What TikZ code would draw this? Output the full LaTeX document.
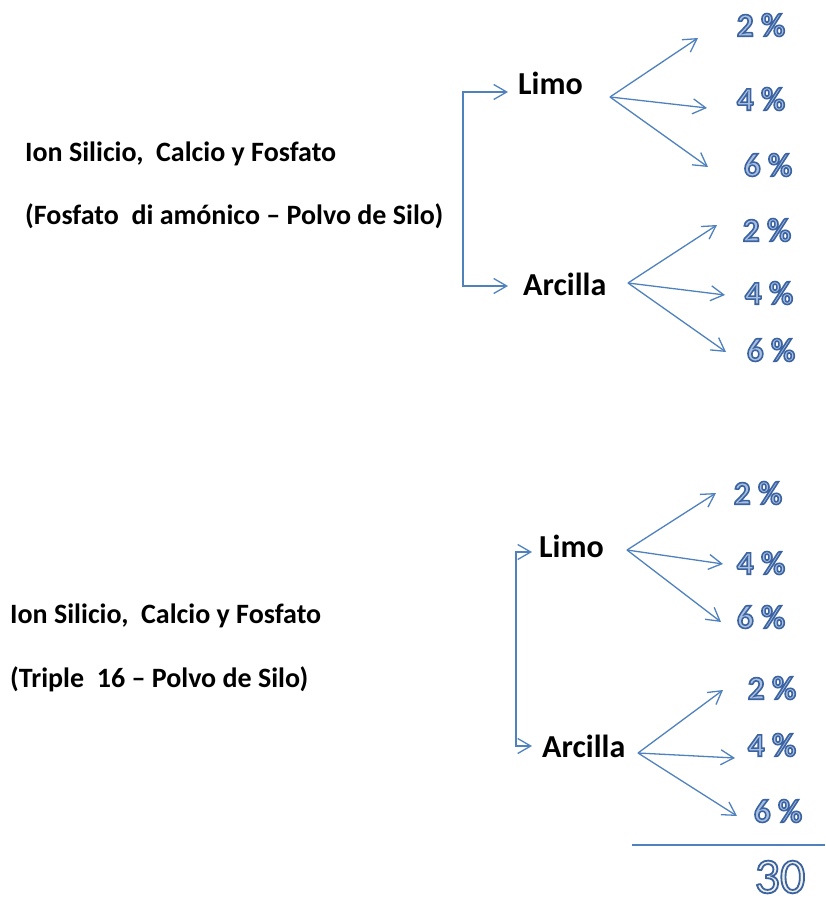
\documentclass[tikz,border=0pt]{standalone}
\usepackage{fontspec}
\setmainfont{Carlito}
\usetikzlibrary{arrows.meta,positioning,calc}
\definecolor{AzulLinea}{RGB}{79,129,189}
\definecolor{AzulPalido}{RGB}{170,192,224}
\definecolor{Crema}{RGB}{240,242,230}
% texto con contorno azul (modo de trazo 2 = relleno + borde)
\newcommand{\pctval}[1]{{\color{AzulPalido}\special{pdf:literal direct 0.23 0.39 0.63 RG 2 Tr 1.6 w}#1\special{pdf:literal direct 0 Tr}}}
\newcommand{\totval}[1]{{\color{Crema}\special{pdf:literal direct 0.23 0.39 0.63 RG 2 Tr 1.8 w}#1\special{pdf:literal direct 0 Tr}}}
\tikzset{
  origentxt/.style={anchor=base west, inner sep=0pt, font=\fontsize{28}{34}\selectfont\bfseries},
  suelotxt/.style={anchor=base west, inner sep=0pt, font=\fontsize{32}{38}\selectfont\bfseries},
  pcttxt/.style={inner sep=0pt, font=\fontsize{33}{40}\selectfont\bfseries},
  totaltxt/.style={inner sep=0pt, font=\fontsize{50}{56}\selectfont},
  ramaarr/.style={-{Straight Barb[length=13pt, width=15pt]}, line width=1.3pt, AzulLinea},
}

\begin{document}
\begin{tikzpicture}[x=1pt, y=-1pt]
  \useasboundingbox (0,0) rectangle (825,901);

  % ---- bloque 1: fosfato di amonico ----
  \node[origentxt] (or1a) at (25,162) {Ion Silicio,\ \ Calcio y Fosfato};
  \node[origentxt] (or1b) at (25,225) {(Fosfato\ \ di amónico -- Polvo de Silo)};
  \node[suelotxt] (limo1) at (518,95) {Limo};
  \node[suelotxt] (arci1) at (523,295) {Arcilla};
  \coordinate (br1) at (463,189);
  \coordinate (limo1in) at (508,92);
  \coordinate (arci1in) at (508,286);
  \draw[ramaarr] (br1) |- (limo1in);
  \draw[ramaarr] (br1) |- (arci1in);

  \coordinate (limo1out) at (610,97);
  \coordinate (l1a) at (698,38);
  \coordinate (l1b) at (707,108);
  \coordinate (l1c) at (708,167);
  \coordinate (arci1out) at (628,283);
  \coordinate (a1a) at (717,225);
  \coordinate (a1b) at (725,295);
  \coordinate (a1c) at (726,352);
  \foreach \t in {a,b,c} {
    \draw[ramaarr] (limo1out) -- (l1\t);
    \draw[ramaarr] (arci1out) -- (a1\t);
  }
  \node[pcttxt] (p1a) at (761,25) {\pctval{2 \%}};
  \node[pcttxt] (p1b) at (761,99) {\pctval{4 \%}};
  \node[pcttxt] (p1c) at (768,165) {\pctval{6 \%}};
  \node[pcttxt] (q1a) at (767,230) {\pctval{2 \%}};
  \node[pcttxt] (q1b) at (769,293) {\pctval{4 \%}};
  \node[pcttxt] (q1c) at (771,350) {\pctval{6 \%}};

  % ---- bloque 2: triple 16 ----
  \node[origentxt] (or2a) at (10,623) {Ion Silicio,\ \ Calcio y Fosfato};
  \node[origentxt] (or2b) at (10,687) {(Triple\ \ 16 -- Polvo de Silo)};
  \node[suelotxt] (limo2) at (539,557) {Limo};
  \node[suelotxt] (arci2) at (542,757) {Arcilla};
  \coordinate (br2) at (516,649);
  \coordinate (limo2in) at (532,552);
  \coordinate (arci2in) at (532,746);
  \draw[ramaarr] (br2) |- (limo2in);
  \draw[ramaarr] (br2) |- (arci2in);

  \coordinate (limo2out) at (627,550);
  \coordinate (l2a) at (716,493);
  \coordinate (l2b) at (723,564);
  \coordinate (l2c) at (721,622);
  \coordinate (arci2out) at (638,753);
  \coordinate (a2a) at (723,690);
  \coordinate (a2b) at (735,758);
  \coordinate (a2c) at (737,816);
  \foreach \t in {a,b,c} {
    \draw[ramaarr] (limo2out) -- (l2\t);
    \draw[ramaarr] (arci2out) -- (a2\t);
  }
  \node[pcttxt] (p2a) at (758,493) {\pctval{2 \%}};
  \node[pcttxt] (p2b) at (761,563) {\pctval{4 \%}};
  \node[pcttxt] (p2c) at (761,617) {\pctval{6 \%}};
  \node[pcttxt] (q2a) at (772,688) {\pctval{2 \%}};
  \node[pcttxt] (q2b) at (772,745) {\pctval{4 \%}};
  \node[pcttxt] (q2c) at (778,811) {\pctval{6 \%}};

  % ---- total ----
  \coordinate (sumL) at (632,845);
  \coordinate (sumR) at (825,845);
  \draw[AzulLinea, line width=1.6pt] (sumL) -- (sumR);
  \node[totaltxt] (total) at (780,877) {\totval{30}};
\end{tikzpicture}
\end{document}
